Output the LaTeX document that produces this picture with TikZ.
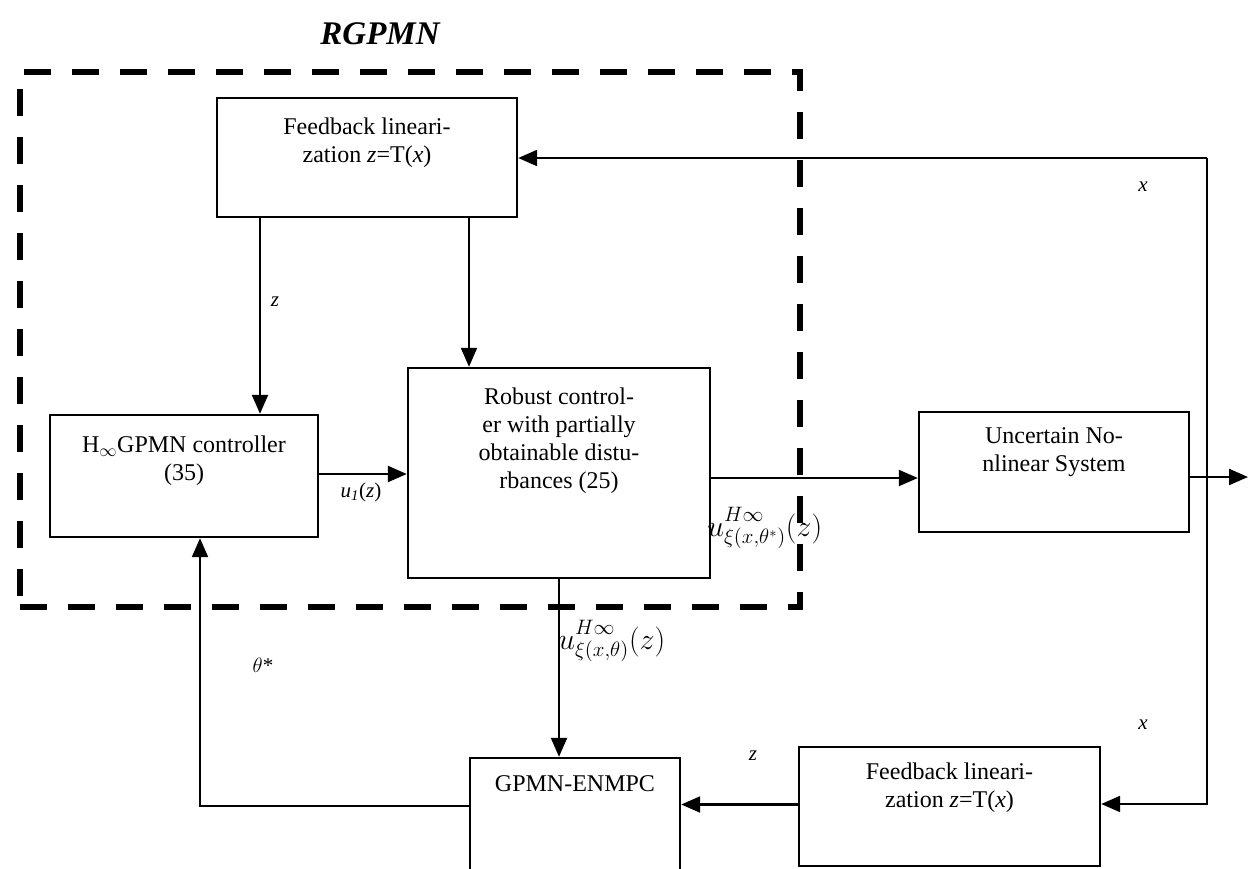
\documentclass[tikz,border=0pt]{standalone}
\usepackage{fontspec}
\setmainfont{Liberation Serif}
\usetikzlibrary{arrows.meta,calc}
\begin{document}
\begin{tikzpicture}[x=1pt,y=-1pt,
  blk/.style={draw, line width=2.4pt, inner sep=0pt},
  txt/.style={font=\fontsize{24}{28}\selectfont, align=center, anchor=north, inner sep=0pt},
  arr/.style={line width=2.2pt, -{Triangle[length=19pt,width=16pt]}},
  lab/.style={font=\fontsize{21}{24}\selectfont, inner sep=0pt},
  mlab/.style={font=\fontsize{20}{24}\selectfont, inner sep=0pt, anchor=base west, scale=1.45},
  dashbox/.style={draw, line width=6.5pt, dash pattern=on 27pt off 21pt, inner sep=0pt},
]
\useasboundingbox (0,0) rectangle (1248,868);
\clip (0,0) rectangle (1248,868);

% title
\node[font=\fontsize{33}{36}\selectfont\bfseries\itshape, inner sep=0pt] (title) at (380,34) {RGPMN};

% blocks
\node[blk, minimum width=300pt, minimum height=119pt] (fb1) at (367,157.5) {};
\node[blk, minimum width=268pt, minimum height=122pt] (hinf) at (184,476) {};
\node[blk, minimum width=302pt, minimum height=210pt] (rob) at (559,473) {};
\node[blk, minimum width=270pt, minimum height=120pt] (unc) at (1054,472) {};
\node[blk, minimum width=210pt, minimum height=120pt] (gpmn) at (575,818) {};
\node[blk, minimum width=301pt, minimum height=119pt] (fb2) at (949.5,806.5) {};

% block texts
\node[txt] (fb1t) at ([yshift=-21pt]fb1.north) {Feedback lineari-\\zation \textit{z}=T(\textit{x})};
\node[txt] (hinft) at ([yshift=-22pt]hinf.north) {H$_\infty$GPMN controller\\(35)};
\node[txt] (robt) at ([yshift=-21pt]rob.north) {Robust control-\\er with partially\\obtainable distu-\\rbances (25)};
\node[txt] (unct) at ([yshift=-17pt]unc.north) {Uncertain No-\\nlinear System};
\node[txt] (gpmnt) at ([yshift=-19pt]gpmn.north) {GPMN-ENMPC};
\node[txt] (fb2t) at ([yshift=-17pt]fb2.north) {Feedback lineari-\\zation \textit{z}=T(\textit{x})};

% connectors
\coordinate (tapT) at (1207,158);
\coordinate (tapB) at (1207,804);
\coordinate (outend) at (1248,477);

\draw[arr] ([xshift=-107pt]fb1.south) -- ([xshift=-107pt]fb1.south |- hinf.north);
\draw[arr] ([xshift=102pt]fb1.south) -- ([xshift=102pt]fb1.south |- rob.north);
\draw[arr] ([yshift=2pt]hinf.east) -- ([yshift=2pt]hinf.east -| rob.west);
\draw[arr] ([yshift=-5pt]rob.east) -- ([yshift=-5pt]rob.east -| unc.west);
\draw[arr] ([yshift=-5pt]unc.east) -- (outend);
\draw[arr] (tapT) -- (tapT -| fb1.east);
\draw[arr] (tapT) -- (tapB) -- (tapB -| fb2.east);
\draw[arr] (rob.south) -- (rob.south |- gpmn.north);
\draw[arr] ([yshift=2pt]fb2.west) -- ([yshift=2pt]fb2.west -| gpmn.east);
\draw[arr] ([yshift=12pt]gpmn.west) -| ([xshift=16pt]hinf.south);

% labels
\node[lab] (lz1) at (275,302) {\textit{z}};
\node[lab] (lu1) at (361,492) {\textit{u}\textsubscript{\textit{1}}(\textit{z})};
\node[lab] (lx1) at (1143,187) {\textit{x}};
\node[lab] (lx2) at (1143,725) {\textit{x}};
\node[lab] (lz2) at (753,756) {\textit{z}};
\node[lab] (lth) at (263,665) {$\theta$*};
\node[mlab] (lu2) at (707,536) {$u^{\rule[-3pt]{0pt}{1pt}H\infty}_{\xi(x,\theta^*)}(z)$};
\node[mlab] (lu3) at (558,649) {$u^{\rule[-3pt]{0pt}{1pt}H\infty}_{\xi(x,\theta)}(z)$};

% dashed RGPMN boundary
\node[dashbox, minimum width=780pt, minimum height=535pt] (rgpmn) at (410,339.5) {};
\end{tikzpicture}
\end{document}
